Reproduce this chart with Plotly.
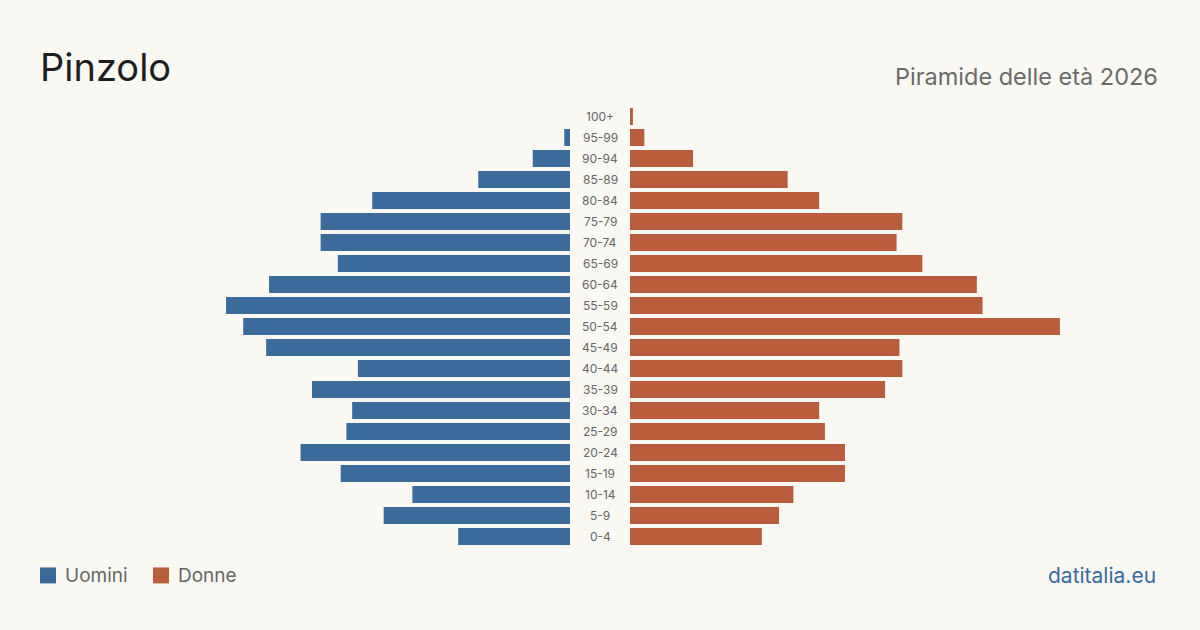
import plotly.graph_objects as go

ages = ["0-4", "5-9", "10-14", "15-19", "20-24", "25-29", "30-34", "35-39", "40-44",
        "45-49", "50-54", "55-59", "60-64", "65-69", "70-74", "75-79", "80-84",
        "85-89", "90-94", "95-99", "100+"]
men = [39, 65, 55, 80, 94, 78, 76, 90, 74, 106, 114, 120, 105, 81, 87, 87, 69, 32, 13, 2, 0]
women = [46, 52, 57, 75, 75, 68, 66, 89, 95, 94, 150, 123, 121, 102, 93, 95, 66, 55, 22, 5, 1]

BLUE = "#3b6b9b"
ORANGE = "#b95d3d"
BG = "#faf8f3"
FONT = "Inter"

xmax = 184.9

fig = go.Figure()
fig.add_trace(go.Bar(y=ages, x=men, orientation="h", name="Uomini", marker_color=BLUE,
                     marker_line_width=0,
                     xaxis="x", yaxis="y", hovertemplate="%{y}: %{x}<extra>Uomini</extra>"))
fig.add_trace(go.Bar(y=ages, x=women, orientation="h", name="Donne", marker_color=ORANGE,
                     marker_line_width=0,
                     xaxis="x2", yaxis="y", hovertemplate="%{y}: %{x}<extra>Donne</extra>"))

W, H = 1200, 630
T, B = 105.5, 82.5
PH = H - T - B


def px(xp):
    return xp / W


def py(yp):
    return (H - B - yp) / PH


fig.update_layout(
    width=W, height=H,
    paper_bgcolor=BG, plot_bgcolor=BG,
    margin=dict(l=0, r=0, t=T, b=B),
    bargap=0.19,
    showlegend=False,
    xaxis=dict(domain=[px(40), px(570)], range=[xmax, 0], visible=False, fixedrange=True),
    xaxis2=dict(domain=[px(630), px(1160)], range=[0, xmax], visible=False, fixedrange=True),
    yaxis=dict(categoryorder="array", categoryarray=ages, range=[-0.5, 20.5],
               visible=False, fixedrange=True),
    font=dict(family=FONT),
)

annotations = []
for a in ages:
    annotations.append(dict(x=0.5, xref="paper", y=a, yref="y", text=a, showarrow=False,
                            font=dict(family=FONT, size=12, color="#666"),
                            xanchor="center", yanchor="middle"))
annotations.append(dict(x=px(38), y=py(66), xref="paper", yref="paper", yanchor="middle",
                        xanchor="left", text="Pinzolo", showarrow=False,
                        font=dict(family=FONT, size=38, color="#1e1e1e")))
annotations.append(dict(x=px(1160), y=py(76), xref="paper", yref="paper", yanchor="middle",
                        xanchor="right", text="Piramide delle età 2026", showarrow=False,
                        font=dict(family=FONT, size=23.5, color="#6a6a6a")))
annotations.append(dict(x=px(1158), y=py(576), xref="paper", yref="paper", yanchor="middle",
                        xanchor="right", text="datitalia.eu", showarrow=False,
                        font=dict(family=FONT, size=21, color=BLUE)))

shapes = []
legend_items = [("Uomini", BLUE, 40, 63), ("Donne", ORANGE, 153, 176)]
for name, col, sx, tx in legend_items:
    shapes.append(dict(type="rect", xref="paper", yref="paper",
                       x0=px(sx), x1=px(sx + 16), y0=py(584), y1=py(568),
                       fillcolor=col, line_width=0))
    annotations.append(dict(x=px(tx), y=py(576), xref="paper", yref="paper", yanchor="middle",
                            xanchor="left", text=name, showarrow=False,
                            font=dict(family=FONT, size=19, color="#666")))

fig.update_layout(annotations=annotations, shapes=shapes)

fig.write_html("out.html")
